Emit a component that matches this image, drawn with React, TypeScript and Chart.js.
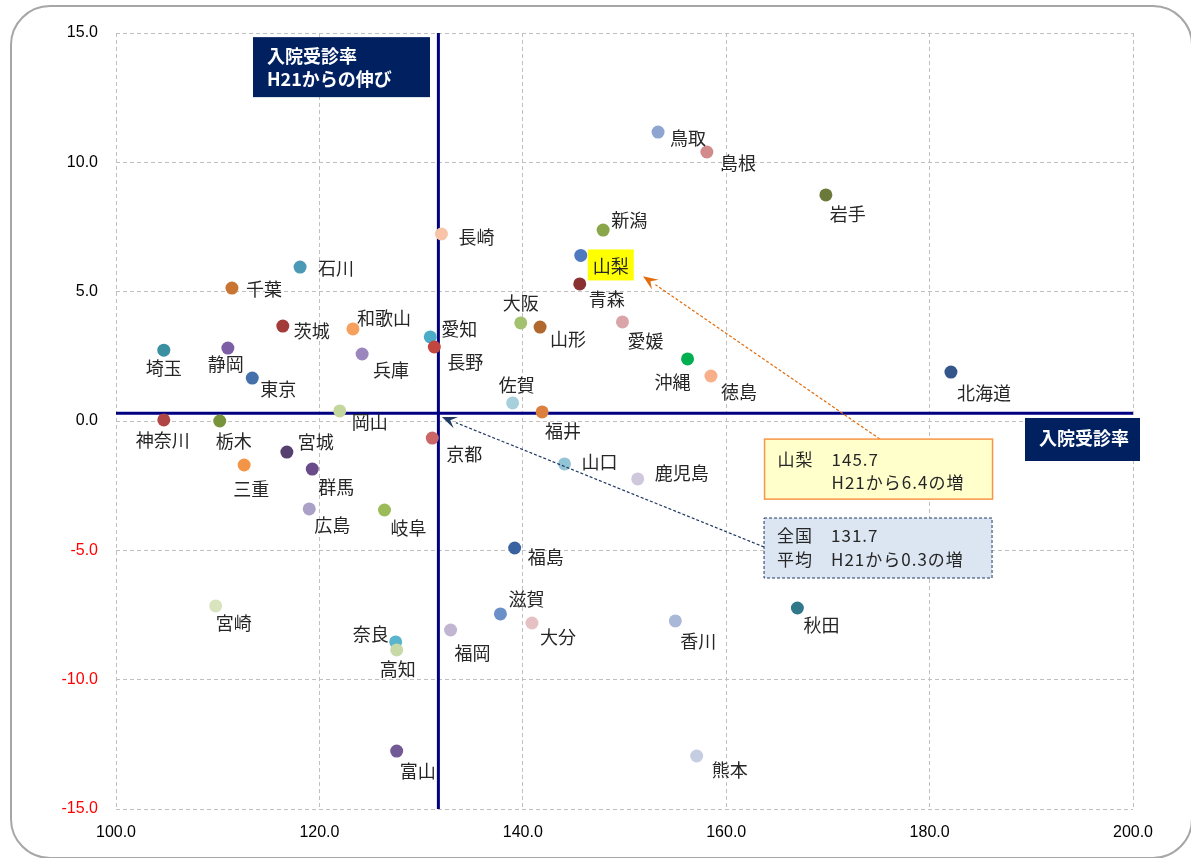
import React, { useEffect, useRef } from "react";
import { Chart, registerables } from "chart.js";

Chart.register(...registerables);

// ---- data ----
const PREFECTURES = [
  "鳥取", "島根", "岩手", "新潟", "長崎", "山梨", "青森", "石川", "千葉", "大阪",
  "山形", "愛媛", "和歌山", "茨城", "愛知", "長野", "埼玉", "静岡", "兵庫", "東京",
  "沖縄", "徳島", "北海道", "佐賀", "福井", "岡山", "神奈川", "栃木", "京都", "宮城",
  "山口", "三重", "群馬", "鹿児島", "広島", "岐阜", "福島", "宮崎", "滋賀", "秋田",
  "香川", "大分", "福岡", "奈良", "高知", "富山", "熊本",
];
// 入院受診率
const ADMISSION_RATE = [
  153.3, 158.1, 169.8, 147.9, 132.0, 145.7, 145.6, 118.1, 111.4, 139.8,
  141.7, 149.8, 123.3, 116.4, 130.9, 131.3, 104.7, 111.0, 124.2, 113.4,
  156.2, 158.5, 182.1, 139.0, 141.9, 122.0, 104.7, 110.2, 131.1, 116.8,
  144.1, 112.6, 119.3, 151.3, 119.0, 126.4, 139.2, 109.8, 137.8, 167.0,
  155.0, 140.9, 132.9, 127.5, 127.6, 127.6, 157.1,
];
// H21からの伸び
const GROWTH_FROM_H21 = [
  11.17, 10.4, 8.74, 7.38, 7.23, 6.4, 5.3, 5.95, 5.14, 3.79,
  3.63, 3.83, 3.56, 3.67, 3.25, 2.86, 2.74, 2.82, 2.59, 1.66,
  2.4, 1.74, 1.89, 0.7, 0.35, 0.39, 0.04, 0.0, -0.66, -1.2,
  -1.66, -1.7, -1.86, -2.24, -3.4, -3.44, -4.91, -7.15, -7.46, -7.23,
  -7.73, -7.81, -8.08, -8.54, -8.85, -12.76, -12.95,
];
const NATIONAL_RATE = 131.7;
const NATIONAL_GROWTH = 0.3;
const HIGHLIGHT = "山梨";
const HIGHLIGHT_RATE = 145.7;
const HIGHLIGHT_GROWTH = 6.4;

const X_MIN = 100, X_MAX = 200, X_STEP = 20;
const Y_MIN = -15, Y_MAX = 15, Y_STEP = 5;

// ---- styles ----
const POINT_COLORS = [
  "#8ea5d1", "#d38a8a", "#6b7a3a", "#8aa64a", "#f7c4a8", "#4f7ac0", "#8b3030", "#4a9ab5", "#c87533", "#a3c26f",
  "#b0682e", "#d9a5a8", "#f5a05c", "#a33b3b", "#4aacc6", "#c0463f", "#3a8fa0", "#7b5ea3", "#9b86be", "#4670aa",
  "#00b050", "#f7b08a", "#34568b", "#a8d0dc", "#dc8040", "#c3d69b", "#b04545", "#77933c", "#cc6666", "#56406f",
  "#93c4d6", "#f29546", "#6a4b8a", "#cfc8dc", "#aba0c6", "#9bbb59", "#3b62a0", "#d7e4bd", "#6b8fc7", "#31788a",
  "#a9b8d8", "#e6c1c3", "#c1b5d1", "#5ab4cc", "#c8d9a8", "#725a96", "#c5cde3",
];
// label placement: [dx to text left, dy to text middle] in px from point centre
const LABEL_OFFSETS: [number, number][] = [
  [12, 5], [13, 10], [4, 18], [8, -11], [17, 2], [12, 10], [9, 14], [18, 0], [14, 0], [-18, -21],
  [10, 11], [5, 18], [4, -12], [11, 4], [11, -9], [13, 14], [-18, 17], [-20, 15], [11, 15], [8, 10],
  [-33, 22], [10, 15], [6, 20], [-14, -19], [3, 18], [12, 10], [-28, 19], [-4, 19], [14, 15], [11, -11],
  [17, -3], [-11, 23], [6, 17], [17, -7], [5, 15], [6, 17], [13, 8], [0, 16], [8, -16], [6, 16],
  [5, 19], [8, 13], [4, 22], [-43, -9], [-17, 18], [3, 19], [15, 13],
];

const LABEL_FONT = '18px "Noto Sans CJK JP"';
const BOX_FONT = '17px "Noto Sans CJK JP"';
const BOLD_FONT = 'bold 18px "Noto Sans CJK JP"';
const NAVY = "#002060";

function drawArrow(ctx: CanvasRenderingContext2D, x1: number, y1: number, x2: number, y2: number, color: string, dash: number[]) {
  const ang = Math.atan2(y2 - y1, x2 - x1);
  const len = 15, hw = 6;
  const bx = x2 - Math.cos(ang) * len;
  const by = y2 - Math.sin(ang) * len;
  ctx.save();
  ctx.strokeStyle = color;
  ctx.fillStyle = color;
  ctx.lineWidth = 1.2;
  ctx.setLineDash(dash);
  ctx.beginPath();
  ctx.moveTo(x1, y1);
  ctx.lineTo(bx, by);
  ctx.stroke();
  ctx.setLineDash([]);
  ctx.beginPath();
  ctx.moveTo(x2, y2);
  ctx.lineTo(bx + Math.sin(ang) * hw, by - Math.cos(ang) * hw);
  ctx.lineTo(x2 - Math.cos(ang) * len * 0.6, y2 - Math.sin(ang) * len * 0.6);
  ctx.lineTo(bx - Math.sin(ang) * hw, by + Math.cos(ang) * hw);
  ctx.closePath();
  ctx.fill();
  ctx.restore();
}

const overlayPlugin = {
  id: "overlay",
  beforeDatasetsDraw(chart: any) {
    const { ctx, chartArea: a, scales } = chart;
    const x = scales.x, y = scales.y;
    ctx.save();
    ctx.strokeStyle = "#000080";
    ctx.lineWidth = 3;
    const vx = x.getPixelForValue(NATIONAL_RATE);
    ctx.beginPath();
    ctx.moveTo(vx, a.top);
    ctx.lineTo(vx, a.bottom);
    ctx.stroke();
    const hy = y.getPixelForValue(NATIONAL_GROWTH);
    ctx.beginPath();
    ctx.moveTo(a.left, hy);
    ctx.lineTo(a.right, hy);
    ctx.stroke();
    ctx.restore();
  },
  afterDatasetsDraw(chart: any) {
    const { ctx, scales } = chart;
    const x = scales.x, y = scales.y;
    const px = (v: number) => x.getPixelForValue(v);
    const py = (v: number) => y.getPixelForValue(v);
    ctx.save();

    // point labels
    ctx.font = LABEL_FONT;
    ctx.textBaseline = "middle";
    ctx.textAlign = "left";
    PREFECTURES.forEach((name, i) => {
      const cx = px(ADMISSION_RATE[i]);
      const cy = py(GROWTH_FROM_H21[i]);
      const [dx, dy] = LABEL_OFFSETS[i];
      if (name === HIGHLIGHT) {
        const w = ctx.measureText(name).width;
        ctx.fillStyle = "#ffff00";
        ctx.fillRect(cx + dx - 5, cy + dy - 16, w + 10, 31);
      }
      ctx.fillStyle = "#262626";
      ctx.fillText(name, cx + dx, cy + dy + 1);
    });

    // arrows
    drawArrow(ctx, px(175.12), py(-0.70), px(151.82), py(5.6), "#e46c0a", [3, 2]);
    drawArrow(ctx, px(163.72), py(-4.87), px(132.05), py(0.155), "#1f3864", [3, 2]);

    // top-left navy box
    {
      const bx = px(113.47), by = py(14.84);
      ctx.fillStyle = NAVY;
      ctx.fillRect(bx, by, 177, 60);
      ctx.fillStyle = "#ffffff";
      ctx.font = BOLD_FONT;
      ctx.fillText("入院受診率", bx + 14, by + 19);
      ctx.fillText("H21からの伸び", bx + 14, by + 42);
    }
    // right navy box
    {
      const bx = px(189.38), by = py(0.116);
      ctx.fillStyle = NAVY;
      ctx.fillRect(bx, by, 115, 43);
      ctx.fillStyle = "#ffffff";
      ctx.font = BOLD_FONT;
      ctx.fillText("入院受診率", bx + 14, by + 20);
    }
    // yellow box
    {
      const bx = px(163.77), by = py(-0.70);
      ctx.fillStyle = "#ffffcc";
      ctx.fillRect(bx, by, 228, 60);
      ctx.strokeStyle = "#f79646";
      ctx.lineWidth = 1.5;
      ctx.strokeRect(bx, by, 228, 60);
      ctx.fillStyle = "#262626";
      ctx.font = BOX_FONT;
      (ctx as any).letterSpacing = "1px";
      ctx.fillText(HIGHLIGHT, bx + 13, by + 20);
      ctx.fillText(HIGHLIGHT_RATE.toFixed(1), bx + 67, by + 20);
      ctx.fillText(`H21から${HIGHLIGHT_GROWTH.toFixed(1)}の増`, bx + 67, by + 43);
      (ctx as any).letterSpacing = "0px";
    }
    // blue box
    {
      const bx = px(163.72), by = py(-3.75);
      ctx.fillStyle = "#dce6f2";
      ctx.fillRect(bx, by, 228, 60);
      ctx.strokeStyle = "#1f3864";
      ctx.lineWidth = 1;
      ctx.setLineDash([3, 2]);
      ctx.strokeRect(bx, by, 228, 60);
      ctx.setLineDash([]);
      ctx.fillStyle = "#262626";
      ctx.font = BOX_FONT;
      (ctx as any).letterSpacing = "1px";
      ctx.fillText("全国", bx + 13, by + 18);
      ctx.fillText(NATIONAL_RATE.toFixed(1), bx + 67, by + 18);
      ctx.fillText("平均", bx + 13, by + 42);
      ctx.fillText(`H21から${NATIONAL_GROWTH.toFixed(1)}の増`, bx + 67, by + 42);
      (ctx as any).letterSpacing = "0px";
    }
    ctx.restore();
  },
};

export default function App() {
  const canvasRef = useRef<HTMLCanvasElement | null>(null);

  useEffect(() => {
    if (!canvasRef.current) return;
    const points = ADMISSION_RATE.map((v, i) => ({ x: v, y: GROWTH_FROM_H21[i] }));
    const gridStyle = {
      color: "#c0c0c0",
      lineWidth: 1,
      drawTicks: false,
    };
    const chart = new Chart(canvasRef.current, {
      type: "scatter",
      data: {
        datasets: [
          {
            label: "都道府県",
            data: points,
            pointRadius: 6.5,
            pointHoverRadius: 6.5,
            pointBorderWidth: 0,
            pointBackgroundColor: POINT_COLORS,
            backgroundColor: POINT_COLORS,
          },
        ],
      },
      options: {
        responsive: false,
        animation: false,
        layout: { padding: { top: 33, right: 58, left: 0, bottom: 0 } },
        plugins: {
          legend: { display: false },
          tooltip: { enabled: false },
        },
        scales: {
          x: {
            type: "linear",
            min: X_MIN,
            max: X_MAX,
            ticks: {
              stepSize: X_STEP,
              padding: 14,
              color: "#000000",
              font: { family: '"Liberation Sans"', size: 16 },
              callback: (v: any) => Number(v).toFixed(1),
            },
            grid: gridStyle,
            border: { display: false, dash: [4, 3] },
            afterFit: (s: any) => { s.height = 49; },
          },
          y: {
            type: "linear",
            min: Y_MIN,
            max: Y_MAX,
            ticks: {
              stepSize: Y_STEP,
              padding: 18,
              color: (c: any) => (c.tick && c.tick.value < 0 ? "#ff0000" : "#000000"),
              font: { family: '"Liberation Sans"', size: 16 },
              callback: (v: any) => Number(v).toFixed(1),
            },
            grid: gridStyle,
            border: { display: false, dash: [4, 3] },
            afterFit: (s: any) => { s.width = 116; },
          },
        },
      },
      plugins: [overlayPlugin],
    } as any);
    return () => chart.destroy();
  }, []);

  return (
    <div style={{ position: "fixed", left: 0, top: 0, width: 1191, height: 858, overflow: "hidden", background: "#ffffff" }}>
      <div
        style={{
          position: "absolute",
          left: 10,
          top: 5,
          width: 1183,
          height: 854,
          boxSizing: "border-box",
          border: "2px solid #a6a6a6",
          borderRadius: 40,
        }}
      />
      <canvas
        ref={canvasRef}
        width={1191}
        height={858}
        style={{ position: "absolute", left: 0, top: 0, width: 1191, height: 858 }}
      />
    </div>
  );
}
